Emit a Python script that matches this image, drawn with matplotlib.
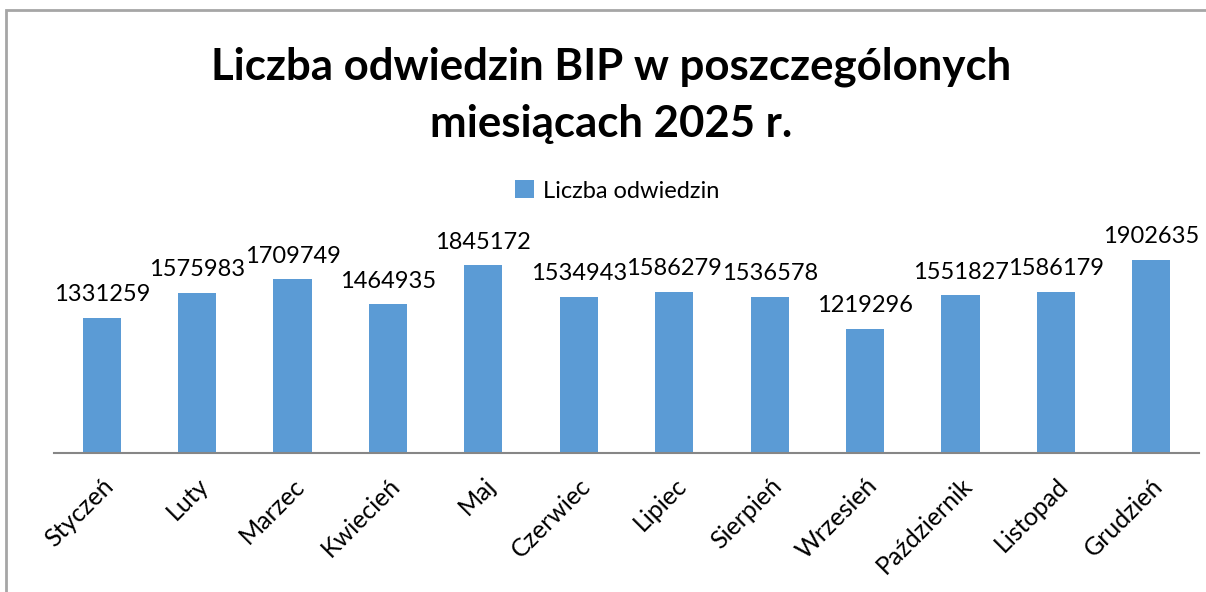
import matplotlib.pyplot as plt
from matplotlib.patches import Rectangle

months = ['Styczeń', 'Luty', 'Marzec', 'Kwiecień', 'Maj', 'Czerwiec',
          'Lipiec', 'Sierpień', 'Wrzesień', 'Październik', 'Listopad', 'Grudzień']
visits = [1331259, 1575983, 1709749, 1464935, 1845172, 1534943,
          1586279, 1536578, 1219296, 1551827, 1586179, 1902635]
series_name = 'Liczba odwiedzin'
title = 'Liczba odwiedzin BIP w poszczególonych\nmiesiącach 2025 r.'

plt.rcParams['font.family'] = ['Lato', 'DejaVu Sans']

fig = plt.figure(figsize=(12.06, 5.92), dpi=100)
# outer chart border (partly cropped in the original)
fig.patches.append(Rectangle((6 / 1206, -0.1), 1.2, 1 - 10 / 592 + 0.1,
                             transform=fig.transFigure, fill=False,
                             edgecolor='#a6a6a6', linewidth=2))

ax = fig.add_axes([54 / 1206, 139 / 592, 1145 / 1206, 203.4 / 592])
x = range(len(months))
bars = ax.bar(x, visits, width=0.4, color='#5b9bd5', label=series_name)
ax.bar_label(bars, labels=[str(v) for v in visits], padding=9, fontsize=17)

ax.set_xlim(-0.5, len(months) - 0.5)
ax.set_ylim(0, 2000000)
ax.set_yticks([])
ax.set_xticks(list(x))
ax.set_xticklabels(months, rotation=45, ha='right', rotation_mode='anchor', fontsize=18)
ax.tick_params(axis='x', length=0, pad=15)
for s in ['top', 'right', 'left']:
    ax.spines[s].set_visible(False)
ax.spines['bottom'].set_color('#868686')
ax.spines['bottom'].set_linewidth(1.5)

fig.text(0.507, 1 - 95 / 592, title, ha='center', va='center',
         fontsize=31.5, fontweight='bold', linespacing=1.5)
fig.legend(loc='center', bbox_to_anchor=(0.512, 1 - 191 / 592), frameon=False,
           fontsize=17, handlelength=0.8, handleheight=0.8, handletextpad=0.4)

fig.savefig('out.png', dpi=100)
